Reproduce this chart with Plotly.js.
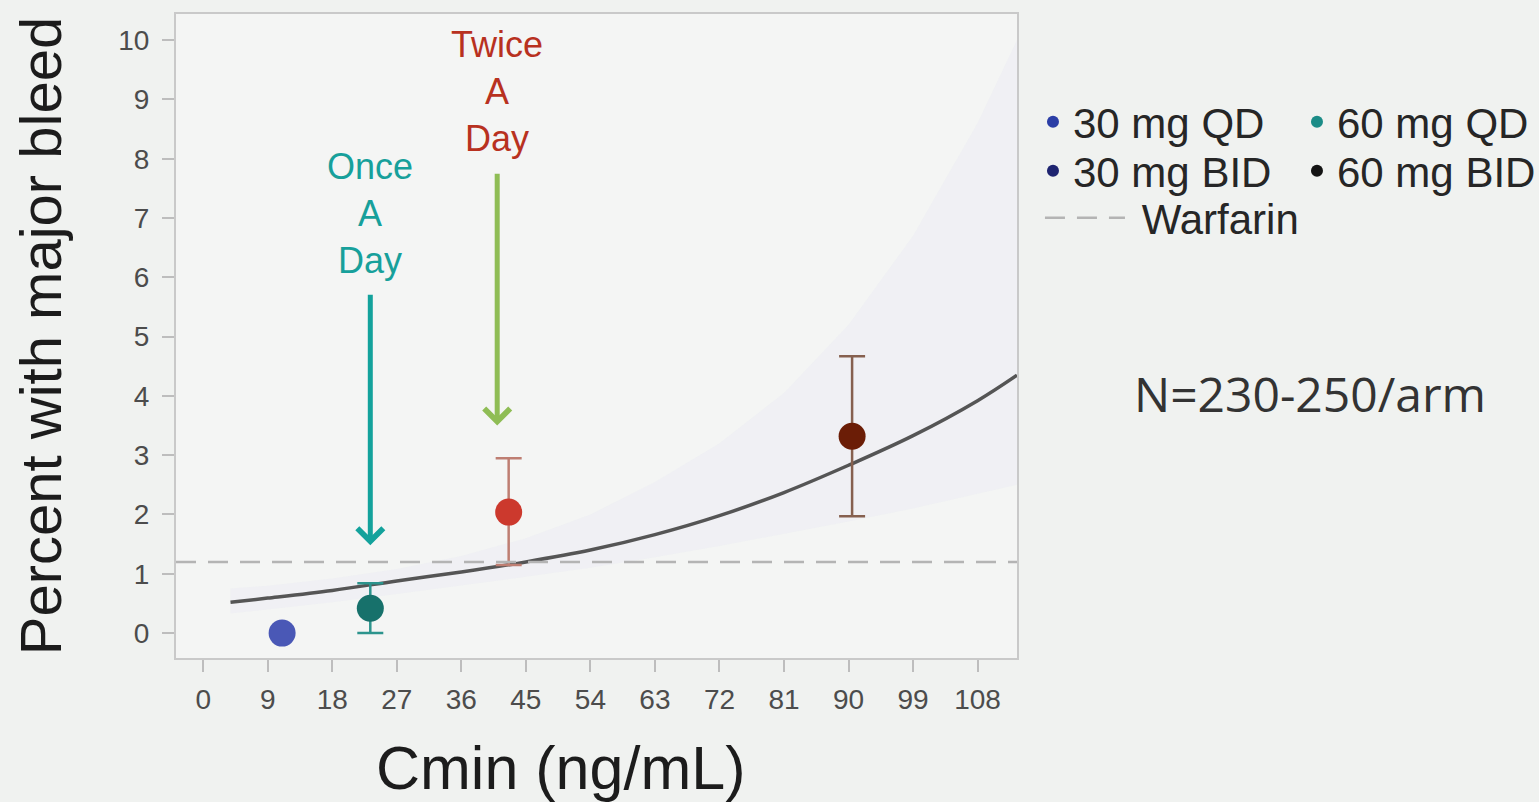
<!DOCTYPE html>
<html>
<head>
<meta charset="utf-8">
<script src="https://cdn.plot.ly/plotly-3.0.1.min.js"></script>
<style>
  html, body { margin: 0; padding: 0; background: #f0f2f0; }
  #chart { width: 1539px; height: 802px; }
</style>
</head>
<body>
<div id="chart"></div>
<script>
// Dose arms: median trough concentration and observed major-bleed rate with 95% CI
const doseLabels   = ['30 mg QD', '60 mg QD', '30 mg BID', '60 mg BID'];
const cminMedian   = [11.0, 23.3, 42.6, 90.5];
const pctBleed     = [0.0, 0.42, 2.04, 3.32];
const ciLower      = [0.0, 0.0, 1.15, 1.97];
const ciUpper      = [0.0, 0.84, 2.95, 4.67];

// Colours of the plotted arms and of their legend keys
const pointColors  = ['#4a58b6', '#17716b', '#cc392d', '#6b1d06'];
const errorColors  = ['#4a58b6', '#2c948d', '#be7e72', '#86604f'];
const legendColors = ['#2b3ea6', '#1b8c87', '#1e2470', '#141414'];
// legend rows: QD arms on the first row, BID arms on the second
const legendRows   = ['legend', 'legend', 'legend3', 'legend3'];

// Model-predicted exposure-response curve and its confidence band
const curveCmin = [3.8, 9, 18, 27, 36, 45, 54, 63, 72, 81, 90, 99, 108, 113.5];
const curvePct  = [0.52, 0.59, 0.72, 0.88, 1.03, 1.20, 1.40, 1.66, 1.98, 2.37, 2.83, 3.33, 3.92, 4.35];
const bandUpper = [0.75, 0.80, 0.92, 1.08, 1.30, 1.60, 2.00, 2.55, 3.20, 4.05, 5.20, 6.70, 8.60, 10.0];
const bandLower = [0.33, 0.40, 0.52, 0.66, 0.80, 0.95, 1.10, 1.28, 1.47, 1.67, 1.88, 2.10, 2.35, 2.50];

// Warfarin comparator rate
const warfarinPct = 1.2;

// Axis ticks
const xTicks = [0, 9, 18, 27, 36, 45, 54, 63, 72, 81, 90, 99, 108];
const yTicks = [0, 1, 2, 3, 4, 5, 6, 7, 8, 9, 10];

const FONT = '"Liberation Sans", Arial, sans-serif';

const traces = [];

// confidence band
traces.push({
  x: curveCmin.concat(curveCmin.slice().reverse()),
  y: bandUpper.concat(bandLower.slice().reverse()),
  type: 'scatter', mode: 'lines', fill: 'toself',
  fillcolor: 'rgba(226,228,242,0.25)',
  line: { width: 0 }, hoverinfo: 'skip', showlegend: false
});

// fitted curve
traces.push({
  x: curveCmin, y: curvePct,
  type: 'scatter', mode: 'lines',
  line: { color: '#555555', width: 3.5, shape: 'spline' },
  hoverinfo: 'skip', showlegend: false
});

// observed arms with CI whiskers
doseLabels.forEach((name, i) => {
  traces.push({
    x: [cminMedian[i]], y: [pctBleed[i]],
    type: 'scatter', mode: 'markers', name: name,
    marker: { size: 27, color: pointColors[i] },
    error_y: {
      type: 'data', symmetric: false,
      array: [ciUpper[i] - pctBleed[i]],
      arrayminus: [pctBleed[i] - ciLower[i]],
      color: errorColors[i], thickness: 2.5, width: 13,
      visible: ciUpper[i] > ciLower[i]
    },
    showlegend: false
  });
});

// legend keys for the arms
doseLabels.forEach((name, i) => {
  traces.push({
    x: [null], y: [null],
    type: 'scatter', mode: 'markers', name: name,
    marker: { size: 12, color: legendColors[i] },
    legend: legendRows[i], showlegend: true
  });
});

const legendFont = { family: FONT, size: 42, color: '#262626' };
const rowLegend = (y) => ({
  orientation: 'h', x: 1.019, xanchor: 'left', y: y, yanchor: 'top',
  entrywidth: 219, bgcolor: 'rgba(0,0,0,0)', borderwidth: 0, font: legendFont
});

const layout = {
  width: 1539, height: 802,
  margin: { l: 176, r: 522, t: 14, b: 144, autoexpand: false },
  paper_bgcolor: '#f0f2f0',
  plot_bgcolor: '#f4f5f4',
  font: { family: FONT, color: '#222' },
  xaxis: {
    range: [-3.8, 113.5],
    tickvals: xTicks, ticktext: xTicks.map(String),
    ticks: 'outside', ticklen: 12, tickwidth: 2, tickcolor: '#bdbdbd',
    ticklabelstandoff: 3,
    tickfont: { family: FONT, size: 28, color: '#4c4c4c' },
    showline: true, mirror: true, linecolor: '#c9c9c9', linewidth: 2,
    showgrid: false, zeroline: false
  },
  yaxis: {
    range: [-0.42, 10.44],
    tickvals: yTicks, ticktext: yTicks.map(String),
    ticks: 'outside', ticklen: 12, tickwidth: 2, tickcolor: '#bdbdbd',
    ticklabelstandoff: 7,
    tickfont: { family: FONT, size: 28, color: '#4c4c4c' },
    showline: true, mirror: true, linecolor: '#c9c9c9', linewidth: 2,
    showgrid: false, zeroline: false,
    title: { text: 'Percent with major bleed', font: { family: FONT, size: 58, color: '#1c1c1c' }, standoff: 38 }
  },
  legend: rowLegend(0.885),
  legend3: rowLegend(0.809),
  legend2: {
    orientation: 'h', x: 1.0273, xanchor: 'left', y: 0.736, yanchor: 'top',
    itemwidth: 80, bgcolor: 'rgba(0,0,0,0)', borderwidth: 0, font: legendFont
  },
  shapes: [{
    type: 'line', xref: 'paper', x0: 0, x1: 1, yref: 'y', y0: warfarinPct, y1: warfarinPct,
    line: { color: '#b4b4b4', width: 2.5, dash: '20px,12px' },
    layer: 'above', name: '\u00a0Warfarin', showlegend: true, legend: 'legend2'
  }],
  annotations: [
    { xref: 'x', yref: 'y', x: 23.3, y: 7.08, text: 'Once<br>A<br>Day', showarrow: false,
      font: { family: FONT, size: 36, color: '#17a09b' }, xanchor: 'center', yanchor: 'middle' },
    { xref: 'x', yref: 'y', x: 41.0, y: 9.13, text: 'Twice<br>A<br>Day', showarrow: false,
      font: { family: FONT, size: 36, color: '#b8311f' }, xanchor: 'center', yanchor: 'middle' },
    { xref: 'x', yref: 'y', x: 23.3, y: 1.48, axref: 'x', ayref: 'y', ax: 23.3, ay: 5.73,
      text: '', showarrow: true, arrowhead: 4, arrowsize: 1.0, arrowwidth: 5, arrowcolor: '#13a29c' },
    { xref: 'x', yref: 'y', x: 41.0, y: 3.5, axref: 'x', ayref: 'y', ax: 41.0, ay: 7.77,
      text: '', showarrow: true, arrowhead: 4, arrowsize: 1.0, arrowwidth: 5, arrowcolor: '#8fbd55' },
    { xref: 'paper', yref: 'paper', x: 1.348, y: 0.411, text: 'N=230-250/arm', showarrow: false,
      font: { family: '"Open Sans", sans-serif', size: 48, color: '#333' }, xanchor: 'center', yanchor: 'middle' },
    { xref: 'paper', yref: 'paper', x: 0.4566, y: -0.1708, text: 'Cmin (ng/mL)', showarrow: false,
      font: { family: FONT, size: 61, color: '#1c1c1c' }, xanchor: 'center', yanchor: 'middle' }
  ]
};

Plotly.newPlot('chart', traces, layout, { displayModeBar: false, staticPlot: true });
</script>
</body>
</html>
